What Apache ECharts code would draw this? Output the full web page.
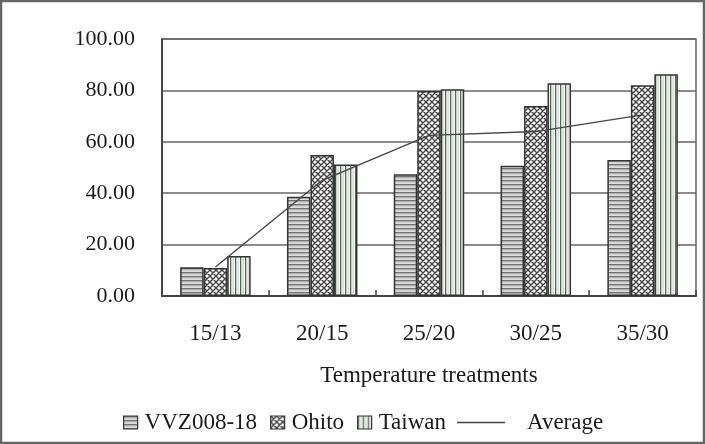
<!DOCTYPE html>
<html>
<head>
<meta charset="utf-8">
<script src="https://cdn.jsdelivr.net/npm/echarts@6/dist/echarts.min.js"></script>
<style>
html,body{margin:0;padding:0;background:#fff;}
#chart{width:705px;height:444px;}
</style>
</head>
<body>
<div id="chart"></div>
<script>
// ---- data ----
var categories = ['15/13', '20/15', '25/20', '30/25', '35/30'];
var vvz = [11.2, 38.6, 47.4, 50.7, 52.9];
var ohito = [10.9, 54.9, 79.8, 73.9, 82.0];
var taiwan = [15.6, 51.2, 80.4, 82.8, 86.3];
var average = [11.3, 45.0, 62.5, 64.0, 70.5];
var yTicks = [0, 20, 40, 60, 80, 100];

// ---- patterns ----
function mk(w, h, draw) {
  var c = document.createElement('canvas');
  c.width = w; c.height = h;
  draw(c.getContext('2d'));
  return c;
}
var hStripe = mk(4, 4, function (g) {
  g.fillStyle = '#f2f2f2'; g.fillRect(0, 0, 4, 4);
  g.fillStyle = '#707070'; g.fillRect(0, 0, 4, 1.5);
  g.fillStyle = '#ababab'; g.fillRect(0, 2.5, 4, 0.8);
});
var cross = mk(6, 6, function (g) {
  g.fillStyle = '#ffffff'; g.fillRect(0, 0, 6, 6);
  g.strokeStyle = '#444'; g.lineWidth = 1.4;
  g.beginPath();
  g.moveTo(-1, -1); g.lineTo(7, 7);
  g.moveTo(-1, 5); g.lineTo(1, 7);
  g.moveTo(5, -1); g.lineTo(7, 1);
  g.moveTo(7, -1); g.lineTo(-1, 7);
  g.moveTo(1, -1); g.lineTo(-1, 1);
  g.moveTo(7, 5); g.lineTo(5, 7);
  g.stroke();
});
var vStripe = mk(5, 4, function (g) {
  g.fillStyle = '#fbfbfb'; g.fillRect(0, 0, 5, 4);
  g.fillStyle = '#4f6b4f'; g.fillRect(0, 0, 1.3, 4);
  g.fillStyle = '#c8c8c8'; g.fillRect(2.6, 0, 1, 4);
});

var serif = '"Liberation Serif", "Times New Roman", serif';
var ink = '#1a1a1a';
var chart = echarts.init(document.getElementById('chart'));

function barSeries(name, data, pat) {
  return {
    name: name, type: 'bar', data: data,
    barGap: '0%', barCategoryGap: '34%',
    itemStyle: { color: { image: pat, repeat: 'repeat' }, borderColor: '#333', borderWidth: 1.5 },
    emphasis: { disabled: true }
  };
}

chart.setOption({
  animation: false,
  backgroundColor: '#fff',
  graphic: [{
    type: 'rect', shape: { x: 1, y: 1, width: 703, height: 442 },
    style: { fill: 'none', stroke: '#666', lineWidth: 2.5 }, silent: true
  }],
  grid: { left: 162, right: 9, top: 39, bottom: 148, show: true, borderColor: '#666', borderWidth: 1.5 },
  legend: [{
    data: [{ name: 'VVZ008-18', icon: 'rect' }, { name: 'Ohito', icon: 'rect' }, { name: 'Taiwan', icon: 'rect' }],
    right: 259, top: 411, padding: 0, itemWidth: 14, itemHeight: 13, itemGap: 13,
    itemStyle: { borderColor: '#333', borderWidth: 1.2 },
    textStyle: { fontFamily: serif, fontSize: 23, color: ink, padding: [0, 0, 0, 2] }
  }, {
    data: [{ name: 'Average', icon: 'rect' }],
    left: 457, top: 411, padding: 0, itemWidth: 48, itemHeight: 1.5,
    itemStyle: { borderWidth: 0 },
    textStyle: { fontFamily: serif, fontSize: 23, color: ink, padding: [0, 0, 0, 17] }
  }],
  xAxis: {
    type: 'category', data: categories,
    axisLine: { lineStyle: { color: '#444', width: 2 } },
    axisTick: { show: true, inside: true, length: 6, lineStyle: { color: '#444', width: 1.5 } },
    axisLabel: { fontFamily: serif, fontSize: 23, color: ink, margin: 26 },
    name: 'Temperature treatments', nameLocation: 'middle', nameGap: 68,
    nameTextStyle: { fontFamily: serif, fontSize: 23, color: ink }
  },
  yAxis: {
    type: 'value', min: yTicks[0], max: yTicks[yTicks.length - 1], interval: 20,
    axisLine: { show: true, lineStyle: { color: '#444', width: 2 } },
    axisTick: { show: false },
    splitLine: { lineStyle: { color: '#666', width: 1.5 } },
    axisLabel: { fontFamily: serif, fontSize: 22, color: ink, margin: 27,
      formatter: function (v) { return v.toFixed(2); } }
  },
  series: [
    barSeries('VVZ008-18', vvz, hStripe),
    barSeries('Ohito', ohito, cross),
    barSeries('Taiwan', taiwan, vStripe),
    {
      name: 'Average', type: 'line', data: average, z: 5,
      symbol: 'none', lineStyle: { color: '#444', width: 1.3 }, itemStyle: { color: '#444' },
      emphasis: { disabled: true }
    }
  ]
});
</script>
</body>
</html>
